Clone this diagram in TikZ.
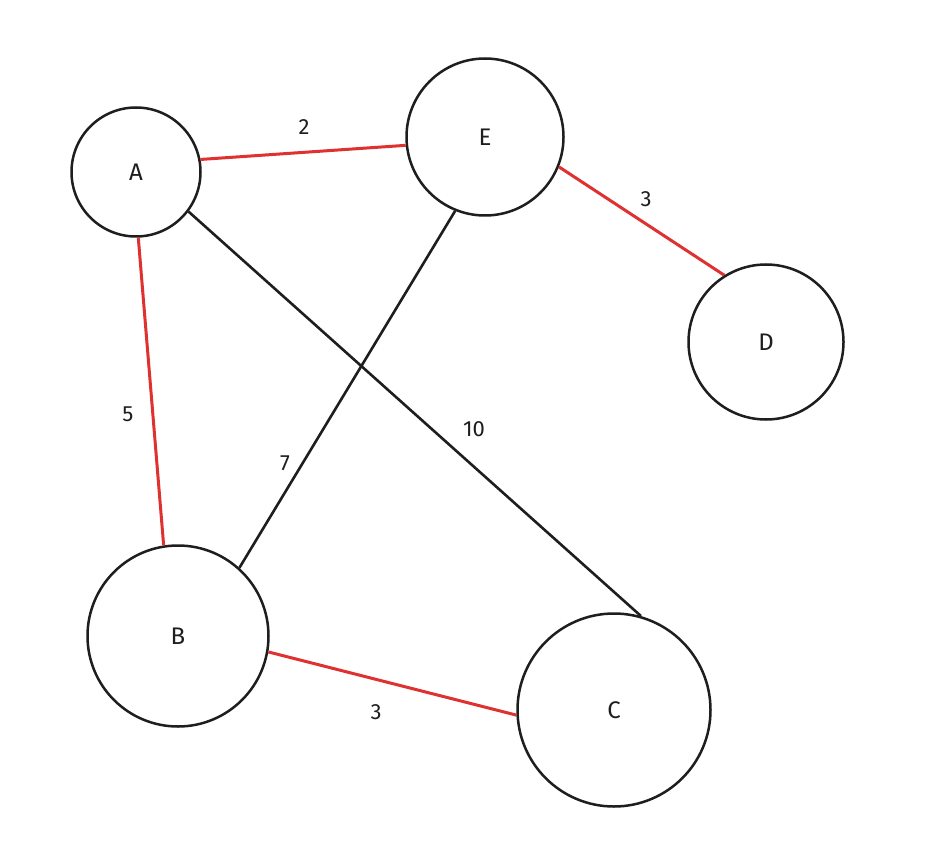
\documentclass[tikz,border=0pt]{standalone}
\usepackage{fontspec}
\setmainfont{Fira Sans}
\definecolor{ink}{HTML}{1E1E1E}
\definecolor{redline}{HTML}{E03131}
\tikzset{
  vertex/.style={circle, draw=ink, line width=2.5pt, inner sep=0pt, text=ink, font=\fontsize{24}{24}\selectfont},
  redge/.style={draw=redline, line width=3pt},
  bedge/.style={draw=ink, line width=2.6pt},
  wlabel/.style={text=ink, font=\fontsize{22}{22}\selectfont, inner sep=0pt}
}
\begin{document}
\begin{tikzpicture}[x=1pt,y=-1pt]
\useasboundingbox[fill=white] (0,0) rectangle (928,866);
\node[vertex, minimum size=129pt] (A) at (136,172) {A};
\node[vertex, minimum size=157pt] (E) at (485,137) {E};
\node[vertex, minimum size=155pt] (D) at (766,342) {D};
\node[vertex, minimum size=181pt] (B) at (178,636) {B};
\node[vertex, minimum size=193pt] (C) at (614,710) {C};
\draw[redge] (A.11) -- (E.186);
\draw[redge] (E.-22) -- (D.122);
\draw[redge] (A.-88) -- (B.99);
\draw[redge] (B.-10) -- (C.183);
\draw[bedge] (A.-37) -- (C.74);
\draw[bedge] (E.-112) -- (B.48);
\node[wlabel] (l2) at (304,127) {2};
\node[wlabel] (l3a) at (646,199) {3};
\node[wlabel] (l5) at (128,414) {5};
\node[wlabel] (l7) at (285,463) {7};
\node[wlabel] (l10) at (474,429) {10};
\node[wlabel] (l3b) at (376,712) {3};
\end{tikzpicture}
\end{document}
